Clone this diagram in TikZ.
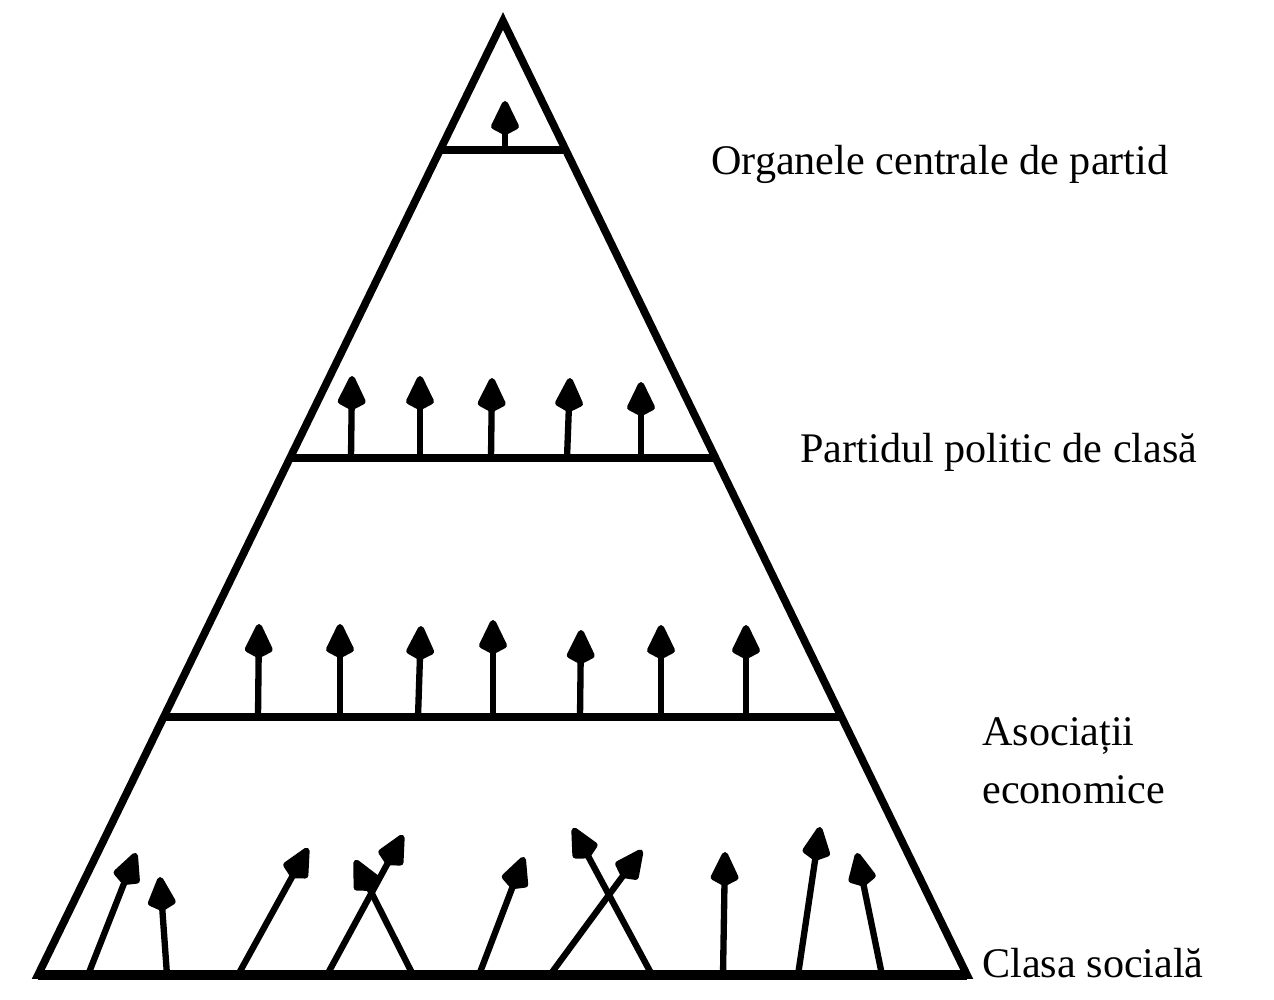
\documentclass[tikz,border=0pt]{standalone}
\usepackage{fontspec}
\setmainfont{Liberation Serif}
\usetikzlibrary{arrows.meta,calc}
\newcommand{\lab}{\fontsize{24}{33}\selectfont}
\tikzset{
  edgeline/.style={line width=4.4pt, line join=miter},
  tierline/.style={line width=4.6pt, line cap=butt},
  baseline/.style={line width=5.2pt, line cap=butt},
  arr/.style={line width=3.6pt, -{Kite[length=22pt,width=17pt,inset=4.5pt,round]}},
  lbl/.style={font=\lab, anchor=base west, inner sep=0pt, align=left}
}
\begin{document}
\begin{tikzpicture}[x=0.02cm,y=-0.02cm]
\useasboundingbox (0,0) rectangle (1274,1000);
% pyramid
\coordinate (A) at (503,21);
\coordinate (BL) at (38,975);
\coordinate (BR) at (967,975);
\draw[edgeline] (A) -- (BR) -- (BL) -- cycle;
\draw[baseline] (BL) -- (BR);
% tier lines
\coordinate (L1) at ($(A)!0.1352!(BL)$);
\coordinate (R1) at ($(A)!0.1352!(BR)$);
\coordinate (L2) at ($(A)!0.4581!(BL)$);
\coordinate (R2) at ($(A)!0.4581!(BR)$);
\coordinate (L3) at ($(A)!0.7296!(BL)$);
\coordinate (R3) at ($(A)!0.7296!(BR)$);
\draw[tierline] (L1) -- (R1);
\draw[tierline] (L2) -- (R2);
\draw[tierline] (L3) -- (R3);
% top arrow
\coordinate (s0) at (505,150);
\coordinate (e0) at (505,101);
\draw[arr] (s0) -- (e0);
% second tier arrows
\foreach \i/\bx/\tx/\ty in {1/351/352/376, 2/420/420/376, 3/491/492/378, 4/567/570/378, 5/641/641/382}{
  \coordinate (s\i) at (\bx,458);
  \coordinate (e\i) at (\tx,\ty);
  \draw[arr] (s\i) -- (e\i);
}
% third tier arrows
\foreach \i/\bx/\tx/\ty in {1/258/259/624, 2/340/340/624, 3/418/421/626, 4/493/493/620, 5/580/581/630, 6/661/661/625, 7/746/746/625}{
  \coordinate (p\i) at (\bx,717);
  \coordinate (q\i) at (\tx,\ty);
  \draw[arr] (p\i) -- (q\i);
}
% bottom tier arrows
\foreach \i/\bx/\tx/\ty in {1/88/136/853, 2/167/160/877, 3/238/308/848, 4/327/403/835, 5/413/355/860, 6/479/524/857, 7/550/642/850, 8/652/573/828, 9/723/725/852, 10/798/820/827, 11/882/857/853}{
  \coordinate (u\i) at (\bx,975);
  \coordinate (v\i) at (\tx,\ty);
  \draw[arr] (u\i) -- (v\i);
}
% labels
\node[lbl] (t1) at (711,175) {Organele centrale de partid};
\node[lbl] (t2) at (800,462) {Partidul politic de clasă};
\node[lbl] (t3) at (982,745) {Asociații};
\node[lbl] (t3b) at (982,803) {economice};
\node[lbl] (t4) at (982,977) {Clasa socială};
\end{tikzpicture}
\end{document}
